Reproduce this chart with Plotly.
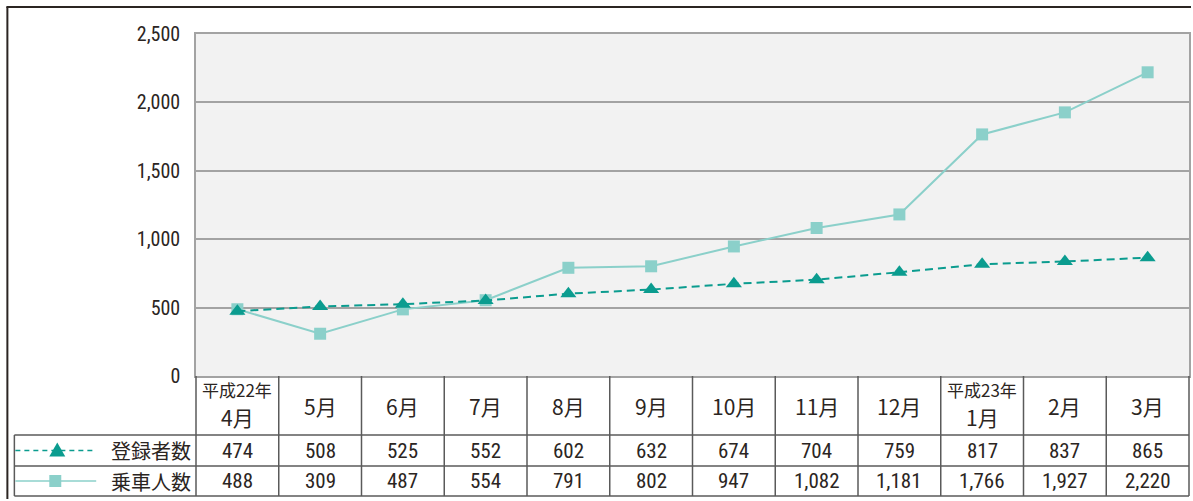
import plotly.graph_objects as go

# ---- data ----
months = ["平成22年|4月", "5月", "6月", "7月", "8月", "9月", "10月", "11月", "12月",
          "平成23年|1月", "2月", "3月"]
registered = [474, 508, 525, 552, 602, 632, 674, 704, 759, 817, 837, 865]
riders = [488, 309, 487, 554, 791, 802, 947, 1082, 1181, 1766, 1927, 2220]
series_names = ["登録者数", "乗車人数"]
y_ticks = [0, 500, 1000, 1500, 2000, 2500]

# ---- style ----
W, H = 1193, 501
L, R, T, B = 196, 1191, 34, 376
DARK_TEAL = "#0b9c8f"
LIGHT_TEAL = "#8bd0ca"
GRID = "#a3a3a3"
INK = "#2b2522"
TABLE_LINE = "#5a5a5a"
FONT = "Liberation Sans Narrow, Arial Narrow, Roboto Condensed, Noto Sans CJK JP, sans-serif"
JFONT = "Noto Sans CJK JP, sans-serif"


def px(x):
    return (x - L) / (R - L)


def py(y):
    return (B - y) / (B - T)


n = len(months)
x_idx = list(range(n))


def cat_edge(k):
    # paper x of category boundary k-0.5 on range [-0.5, n-0.5]
    return k / n


fig = go.Figure()
fig.add_trace(go.Scatter(
    x=x_idx, y=riders, name=series_names[1], mode="lines+markers",
    line=dict(color=LIGHT_TEAL, width=2),
    marker=dict(symbol="square", size=12, color=LIGHT_TEAL),
    cliponaxis=False, showlegend=False))
fig.add_trace(go.Scatter(
    x=x_idx, y=registered, name=series_names[0], mode="lines+markers",
    line=dict(color=DARK_TEAL, width=2, dash="8px,5px"),
    marker=dict(symbol="triangle-up", size=14, color=DARK_TEAL),
    cliponaxis=False, showlegend=False))

shapes = []
annotations = []

# outer frame (left and top)
shapes.append(dict(type="line", xref="paper", yref="paper", x0=px(7), x1=px(7),
                   y0=py(7), y1=py(499), line=dict(color=INK, width=2)))
shapes.append(dict(type="line", xref="paper", yref="paper", x0=px(6), x1=px(1193),
                   y0=py(7), y1=py(7), line=dict(color=INK, width=2)))

# table geometry
y_head_bot, y_row1_bot, y_row2_bot = 435, 466, 496
x_tab_left = 14

for yy in (y_head_bot, y_row1_bot, y_row2_bot):
    shapes.append(dict(type="line", xref="paper", yref="paper", x0=px(x_tab_left), x1=1.0,
                       y0=py(yy), y1=py(yy), line=dict(color=TABLE_LINE, width=1.5)))
shapes.append(dict(type="line", xref="paper", yref="paper", x0=px(x_tab_left), x1=px(x_tab_left),
                   y0=py(y_head_bot), y1=py(y_row2_bot), line=dict(color=TABLE_LINE, width=1.5)))
for k in range(n + 1):
    shapes.append(dict(type="line", xref="paper", yref="paper", x0=cat_edge(k), x1=cat_edge(k),
                       y0=py(B), y1=py(y_row2_bot), line=dict(color=TABLE_LINE, width=1.5)))

# header labels
for i, m in enumerate(months):
    if "|" in m:
        top, bot = m.split("|")
        annotations.append(dict(x=i, xref="x", y=py(389), yref="paper", text=top,
                                showarrow=False, font=dict(family=JFONT, size=17, color=INK),
                                xanchor="center", yanchor="middle"))
        annotations.append(dict(x=i, xref="x", y=py(417), yref="paper", text=bot,
                                showarrow=False, font=dict(family=JFONT, size=21, color=INK),
                                xanchor="center", yanchor="middle"))
    else:
        annotations.append(dict(x=i, xref="x", y=py(406), yref="paper", text=m,
                                showarrow=False, font=dict(family=JFONT, size=21, color=INK),
                                xanchor="center", yanchor="middle"))

# data rows
rows = [(registered, (y_head_bot + y_row1_bot) / 2), (riders, (y_row1_bot + y_row2_bot) / 2)]
for vals, yc in rows:
    for i, v in enumerate(vals):
        annotations.append(dict(x=i, xref="x", y=py(yc), yref="paper", text=f"{v:,}",
                                showarrow=False, font=dict(family=FONT, size=21, color=INK),
                                xanchor="center", yanchor="middle"))

# row labels + legend glyphs
for idx, (name, yc) in enumerate(zip(series_names, [(y_head_bot + y_row1_bot) / 2,
                                                      (y_row1_bot + y_row2_bot) / 2])):
    annotations.append(dict(x=px(193), xref="paper", y=py(yc), yref="paper", text=name,
                            showarrow=False, font=dict(family=JFONT, size=20, color=INK),
                            xanchor="right", yanchor="middle"))
    if idx == 0:
        shapes.append(dict(type="line", xref="paper", yref="paper", x0=px(15), x1=px(96),
                           y0=py(yc), y1=py(yc), line=dict(color=DARK_TEAL, width=1.5, dash="5px,4px")))
        cx = 57
        shapes.append(dict(type="path", xref="paper", yref="paper",
                           path=f"M {px(cx)},{py(yc - 8)} L {px(cx - 8)},{py(yc + 6)} L {px(cx + 8)},{py(yc + 6)} Z",
                           fillcolor=DARK_TEAL, line=dict(width=0)))
    else:
        shapes.append(dict(type="line", xref="paper", yref="paper", x0=px(15), x1=px(96),
                           y0=py(yc), y1=py(yc), line=dict(color=LIGHT_TEAL, width=1.5)))
        cx = 55
        shapes.append(dict(type="rect", xref="paper", yref="paper",
                           x0=px(cx - 6), x1=px(cx + 6), y0=py(yc - 6), y1=py(yc + 6),
                           fillcolor=LIGHT_TEAL, line=dict(width=0)))

fig.update_layout(
    width=W, height=H,
    margin=dict(l=L, r=W - R, t=T, b=H - B, pad=0),
    paper_bgcolor="white", plot_bgcolor="#f2f2f2",
    shapes=shapes, annotations=annotations,
    showlegend=False,
    xaxis=dict(range=[-0.5, n - 0.5], showticklabels=False, showgrid=False, zeroline=False,
               showline=True, linecolor=GRID, linewidth=1.5, mirror=True, ticks=""),
    yaxis=dict(range=[0, 2500], tickvals=y_ticks, ticktext=[f"{v:,}" for v in y_ticks],
               showgrid=True, gridcolor=GRID, gridwidth=2, zeroline=False,
               showline=True, linecolor=GRID, linewidth=1.5, mirror=True,
               ticks="", ticklabelstandoff=10,
               tickfont=dict(family=FONT, size=20, color=INK)),
)

fig.write_html("out.html", config={"displayModeBar": False},
               post_script="document.body.style.margin='0';document.body.style.overflow='hidden';")
